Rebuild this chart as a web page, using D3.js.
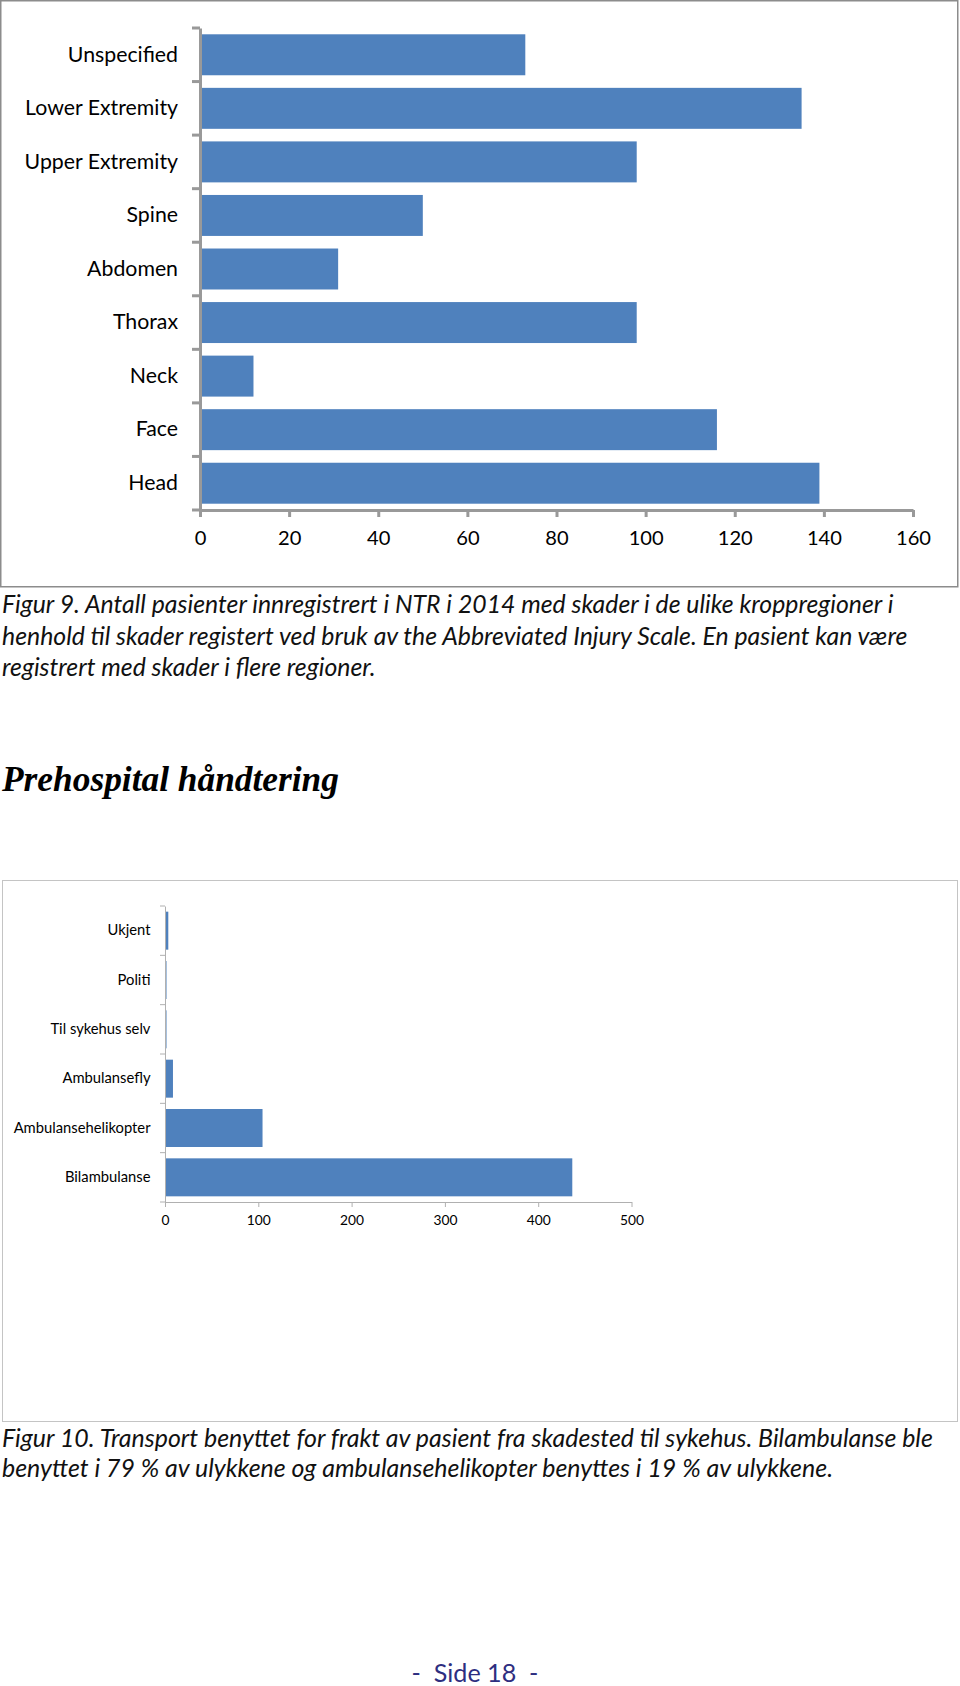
<!DOCTYPE html>
<html><head><meta charset="utf-8">
<script src="https://cdn.jsdelivr.net/npm/d3@7"></script>
<style>body{margin:0;background:#fff}svg{display:block}</style>
</head><body>
<svg id="c" width="960" height="1686"></svg>
<script>
// ---- data ----
const regionCats = ["Unspecified","Lower Extremity","Upper Extremity","Spine","Abdomen","Thorax","Neck","Face","Head"];
const regionVals = [73,135,98,50,31,98,12,116,139];
const regionTicks = [0,20,40,60,80,100,120,140,160];

const transportCats = ["Ukjent","Politi","Til sykehus selv","Ambulansefly","Ambulansehelikopter","Bilambulanse"];
const transportVals = [3,1,1,8,104,436];
const transportTicks = [0,100,200,300,400,500];

const caption1 = ["Figur 9. Antall pasienter innregistrert i NTR i 2014 med skader i de ulike kroppregioner i",
  "henhold til skader registert ved bruk av the Abbreviated Injury Scale. En pasient kan være",
  "registrert med skader i flere regioner."];
const heading = "Prehospital håndtering";
const caption2 = ["Figur 10. Transport benyttet for frakt av pasient fra skadested til sykehus. Bilambulanse ble",
  "benyttet i 79 % av ulykkene og ambulansehelikopter benyttes i 19 % av ulykkene."];
const footer = "-  Side 18  -";

const SANS = "Lato, 'Open Sans', sans-serif";
const SERIF = "'Liberation Serif', 'DejaVu Serif', serif";
const BLUE = "#4F81BD";

const svg = d3.select("#c");

// measure helper to fit font size to a target width
function fit(text, family, style, weight, target){
  const t = svg.append("text").attr("font-family",family).attr("font-style",style)
    .attr("font-weight",weight).attr("font-size",100).text(text);
  const w = t.node().getComputedTextLength(); t.remove();
  return 100*target/w;
}

// ---------------- Chart 1 ----------------
svg.append("rect").attr("x",0.75).attr("y",0.75).attr("width",957).attr("height",586)
  .attr("fill","none").attr("stroke","#8c8c8c").attr("stroke-width",1.5);

const x1 = d3.scaleLinear().domain([0,160]).range([200,913]);
const y1 = d3.scaleBand().domain(regionCats).range([28,510]).paddingInner(0.235).paddingOuter(0.1175);
const lab1 = fit("Lower Extremity", SANS, "normal", 400, 153);
const tick1 = fit("160", SANS, "normal", 400, 35);

svg.append("g").selectAll("rect").data(regionCats).join("rect")
  .attr("x",x1(0)+1.5).attr("y",d=>y1(d))
  .attr("width",(d,i)=>x1(regionVals[i])-x1(0)-1.5).attr("height",y1.bandwidth())
  .attr("fill",BLUE);

const gx1 = svg.append("g").attr("transform","translate(0,510)")
  .call(d3.axisBottom(x1).tickValues(regionTicks).tickSize(7).tickSizeOuter(0).tickPadding(14));
gx1.select(".domain").attr("stroke","#999").attr("stroke-width",3);
gx1.selectAll(".tick line").attr("stroke","#999").attr("stroke-width",3);
gx1.selectAll(".tick text").attr("font-family",SANS).attr("font-size",tick1).attr("fill","#000");

const gy1 = svg.append("g").attr("transform","translate(200,0)")
  .call(d3.axisLeft(y1).tickSize(0).tickPadding(22));
gy1.select(".domain").attr("stroke","#999").attr("stroke-width",3);
gy1.selectAll(".tick text").attr("font-family",SANS).attr("font-size",lab1).attr("fill","#000");
svg.append("g").selectAll("line").data(d3.range(regionCats.length+1)).join("line")
  .attr("x1",192).attr("x2",200)
  .attr("y1",i=>28+i*y1.step()).attr("y2",i=>28+i*y1.step())
  .attr("stroke","#999").attr("stroke-width",3);

// caption 1
const cap1 = fit(caption1[0], SANS, "italic", 400, 892);
svg.append("g").selectAll("text").data(caption1).join("text")
  .attr("x",2).attr("y",(d,i)=>613+i*31.5).attr("font-family",SANS).attr("font-style","italic")
  .attr("font-size",cap1).attr("fill","#111").text(d=>d);

// heading
const hs = fit(heading, SERIF, "italic", 700, 337);
svg.append("text").attr("x",2).attr("y",791).attr("font-family",SERIF).attr("font-style","italic")
  .attr("font-weight",700).attr("font-size",hs).attr("fill","#000").text(heading);

// ---------------- Chart 2 ----------------
svg.append("rect").attr("x",2.5).attr("y",880.5).attr("width",955).attr("height",541)
  .attr("fill","none").attr("stroke","#c4c4c4").attr("stroke-width",1);

const x2 = d3.scaleLinear().domain([0,500]).range([165,631.5]);
const y2 = d3.scaleBand().domain(transportCats).range([906,1202]).paddingInner(0.23).paddingOuter(0.115);
const lab2 = fit("Ambulansehelikopter", SANS, "normal", 400, 137);
const tick2 = fit("500", SANS, "normal", 400, 24);

svg.append("g").selectAll("rect").data(transportCats).join("rect")
  .attr("x",x2(0)+0.5).attr("y",d=>y2(d))
  .attr("width",(d,i)=>Math.max(1,x2(transportVals[i])-x2(0))).attr("height",y2.bandwidth())
  .attr("fill",BLUE);

const gx2 = svg.append("g").attr("transform","translate(0,1202)")
  .call(d3.axisBottom(x2).tickValues(transportTicks).tickSize(5).tickSizeOuter(0).tickPadding(8));
gx2.select(".domain").attr("stroke","#b0b0b0").attr("stroke-width",1);
gx2.selectAll(".tick line").attr("stroke","#b0b0b0");
gx2.selectAll(".tick text").attr("font-family",SANS).attr("font-size",tick2).attr("fill","#000");

const gy2 = svg.append("g").attr("transform","translate(165,0)")
  .call(d3.axisLeft(y2).tickSize(0).tickPadding(14.5));
gy2.select(".domain").attr("stroke","#b0b0b0").attr("stroke-width",1);
gy2.selectAll(".tick text").attr("font-family",SANS).attr("font-size",lab2).attr("fill","#000");
svg.append("g").selectAll("line").data(d3.range(transportCats.length+1)).join("line")
  .attr("x1",160).attr("x2",165)
  .attr("y1",i=>906+i*y2.step()).attr("y2",i=>906+i*y2.step())
  .attr("stroke","#b0b0b0").attr("stroke-width",1);

// caption 2
const cap2 = fit(caption2[0], SANS, "italic", 400, 931);
svg.append("g").selectAll("text").data(caption2).join("text")
  .attr("x",2).attr("y",(d,i)=>1447+i*30).attr("font-family",SANS).attr("font-style","italic")
  .attr("font-size",cap2).attr("fill","#111").text(d=>d);

// footer
const fs = fit(footer, SANS, "normal", 400, 114);
svg.append("text").attr("x",475).attr("y",1682).attr("text-anchor","middle").attr("font-family",SANS)
  .attr("font-size",fs).attr("fill","#2E2E80").attr("xml:space","preserve").text(footer);
</script>
</body></html>
